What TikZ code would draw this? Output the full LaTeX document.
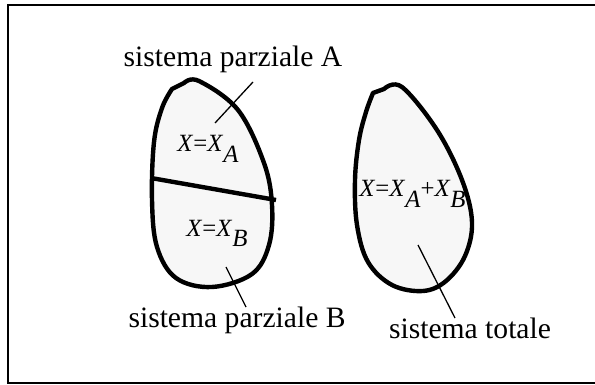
\documentclass[tikz,border=0pt]{standalone}
\usepackage{fontspec}
\setmainfont{Liberation Serif}
\usepackage{tikz}
\usetikzlibrary{positioning,calc}
\newcommand{\lowsub}[1]{\raisebox{-0.42em}{\textit{#1}}}

\begin{document}
\begin{tikzpicture}[
    x=0.5pt, y=-0.5pt,
    frame/.style={draw=black, line width=1pt},
    blob/.style={draw=black, fill=black!3, line width=2.2pt, line join=round},
    divider/.style={draw=black, line width=2.2pt},
    leader/.style={draw=black, line width=0.65pt},
    label/.style={font=\fontsize{14.8}{17}\selectfont, anchor=base, inner sep=0pt},
    formula/.style={font=\fontsize{12.4}{14}\selectfont, anchor=base west, inner sep=0pt}
]
\useasboundingbox (0,0) rectangle (595,385);
\draw[frame] (8,5) rectangle (600,383);

% partial systems A and B
\draw[blob] (172,89) -- plot[smooth, tension=0.6] coordinates {(184,83) (199,81) (238,110) (264,163)
    (272,205) (269,245) (252,274) (212,287) (176,278) (157,247) (152,200) (154,142) (162,108) (172,89)} -- cycle;
\coordinate (divL) at (151,178);
\coordinate (divR) at (276,200);
\draw[divider] (divL) -- (divR);

% total system
\draw[blob] (373,93) -- plot[smooth, tension=0.6] coordinates {(384,89) (402,87) (437,130) (462,180)
    (472,222) (465,256) (446,281) (423,291) (392,285) (368,262) (357,225) (355,180) (359,140) (366,112) (373,93)} -- cycle;

\node[formula] (xA) at (177,152) {\textit{X}=\textit{X}\lowsub{A}};
\node[formula] (xB) at (186,236) {\textit{X}=\textit{X}\lowsub{B}};
\node[formula] (xT) at (359,197) {\textit{X}=\textit{X}\lowsub{A}+\textit{X}\lowsub{B}};

\node[label] (labA) at (233,67) {sistema parziale A};
\node[label] (labB) at (237,328) {sistema parziale B};
\node[label] (labT) at (470,338) {sistema totale};

\coordinate (tA) at (253,82);
\coordinate (pA) at (215,123);
\coordinate (tB) at (246,307);
\coordinate (pB) at (226,267);
\coordinate (tT) at (455,318);
\coordinate (pT) at (418,245);
\draw[leader] (tA) -- (pA);
\draw[leader] (tB) -- (pB);
\draw[leader] (tT) -- (pT);
\end{tikzpicture}
\end{document}
